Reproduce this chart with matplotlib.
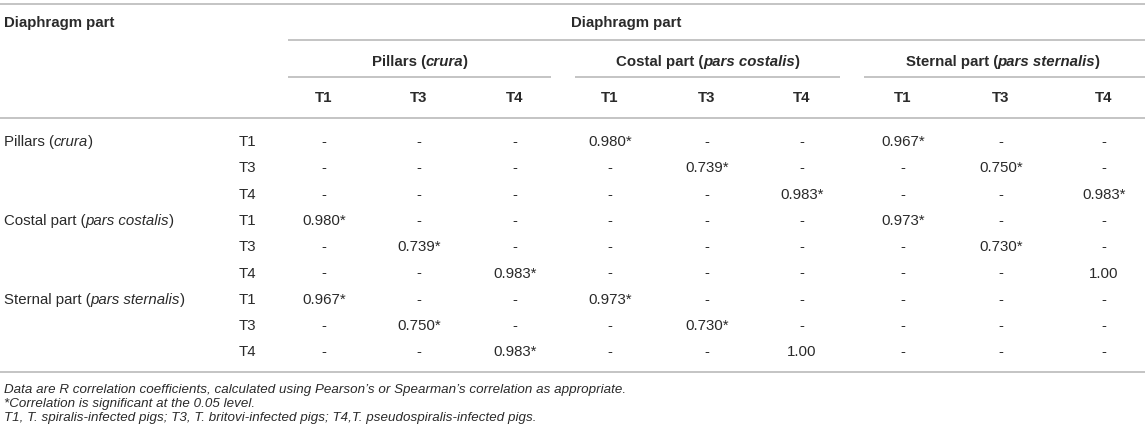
import matplotlib
matplotlib.use("Agg")
import matplotlib.pyplot as plt

plt.rcParams['font.family'] = ['Liberation Sans', 'DejaVu Sans']

# --------- TABLE CONTENT ---------
groups = [
    [("Pillars (", "bold"), ("crura", "bolditalic"), (")", "bold")],
    [("Costal part (", "bold"), ("pars costalis", "bolditalic"), (")", "bold")],
    [("Sternal part (", "bold"), ("pars sternalis", "bolditalic"), (")", "bold")],
]
row_groups = [
    [("Pillars (", "normal"), ("crura", "italic"), (")", "normal")],
    [("Costal part (", "normal"), ("pars costalis", "italic"), (")", "normal")],
    [("Sternal part (", "normal"), ("pars sternalis", "italic"), (")", "normal")],
]
treatments = ["T1", "T3", "T4"]

# correlation cells, one list per row (pillars T1..T4, costal T1..T4, sternal T1..T4)
pillars_rows = [
    ["-", "-", "-", "0.980*", "-", "-", "0.967*", "-", "-"],
    ["-", "-", "-", "-", "0.739*", "-", "-", "0.750*", "-"],
    ["-", "-", "-", "-", "-", "0.983*", "-", "-", "0.983*"],
]
costal_rows = [
    ["0.980*", "-", "-", "-", "-", "-", "0.973*", "-", "-"],
    ["-", "0.739*", "-", "-", "-", "-", "-", "0.730*", "-"],
    ["-", "-", "0.983*", "-", "-", "-", "-", "-", "1.00"],
]
sternal_rows = [
    ["0.967*", "-", "-", "0.973*", "-", "-", "-", "-", "-"],
    ["-", "0.750*", "-", "-", "0.730*", "-", "-", "-", "-"],
    ["-", "-", "0.983*", "-", "-", "1.00", "-", "-", "-"],
]

footnotes = [
    "Data are R correlation coefficients, calculated using Pearson\u2019s or Spearman\u2019s correlation as appropriate.",
    "*Correlation is significant at the 0.05 level.",
    "T1, T. spiralis-infected pigs; T3, T. britovi-infected pigs; T4,T. pseudospiralis-infected pigs.",
]

# --------- LAYOUT (pixels) ---------
W, H = 1145, 443
col_x = [324, 419, 515, 610, 707, 802, 903, 1001, 1104]
group_x = [420, 708, 1003]
group_lines = [(288, 551), (575, 840), (864, 1145)]
row_y0, row_dy = 142, 26.3
fs = 10.8
fs_note = 9.6
txt_color = "#2a2a2a"
line_color = "#c4c4c4"
styles = {
    "normal": dict(weight="normal", style="normal"),
    "italic": dict(weight="normal", style="italic"),
    "bold": dict(weight="bold", style="normal"),
    "bolditalic": dict(weight="bold", style="italic"),
}

fig = plt.figure(figsize=(W / 100, H / 100), dpi=100)
ax = fig.add_axes([0, 0, 1, 1])
ax.set_xlim(0, W)
ax.set_ylim(H, 0)
ax.axis("off")
renderer = fig.canvas.get_renderer()


def rich_text(x, y, parts, size=fs, center=False):
    # draw mixed-style text piece by piece
    objs = []
    widths = []
    for s, st in parts:
        t = ax.text(0, y, s, fontsize=size, color=txt_color, va="center", ha="left", **styles[st])
        widths.append(t.get_window_extent(renderer).width)
        objs.append(t)
    total = sum(widths)
    cur = x - total / 2 if center else x
    for t, w in zip(objs, widths):
        t.set_x(cur)
        cur += w


def hline(y, x0, x1):
    ax.plot([x0, x1], [y, y], color=line_color, lw=1.4, solid_capstyle="butt")


# header
hline(3.5, 0, W)
rich_text(4, 23, [("Diaphragm part", "bold")])
rich_text(626, 23, [("Diaphragm part", "bold")], center=True)
hline(40, 288, W)
for gx, parts in zip(group_x, groups):
    rich_text(gx, 62, parts, center=True)
for x0, x1 in group_lines:
    hline(77, x0, x1)
for i, cx in enumerate(col_x):
    ax.text(cx, 98, treatments[i % 3], fontsize=fs, weight="bold", color=txt_color, ha="center", va="center")
hline(118, 0, W)

# body
all_rows = pillars_rows + costal_rows + sternal_rows
for r, cells in enumerate(all_rows):
    y = row_y0 + r * row_dy
    if r % 3 == 0:
        rich_text(4, y, row_groups[r // 3])
    ax.text(247, y, treatments[r % 3], fontsize=fs, color=txt_color, ha="center", va="center")
    for cx, val in zip(col_x, cells):
        ax.text(cx, y, val, fontsize=fs, color=txt_color, ha="center", va="center")

hline(372, 0, W)

# footnotes
for k, note in enumerate(footnotes):
    ax.text(4, 390 + k * 14, note, fontsize=fs_note, style="italic", color=txt_color, ha="left", va="center")

fig.savefig("out.png", dpi=100)
